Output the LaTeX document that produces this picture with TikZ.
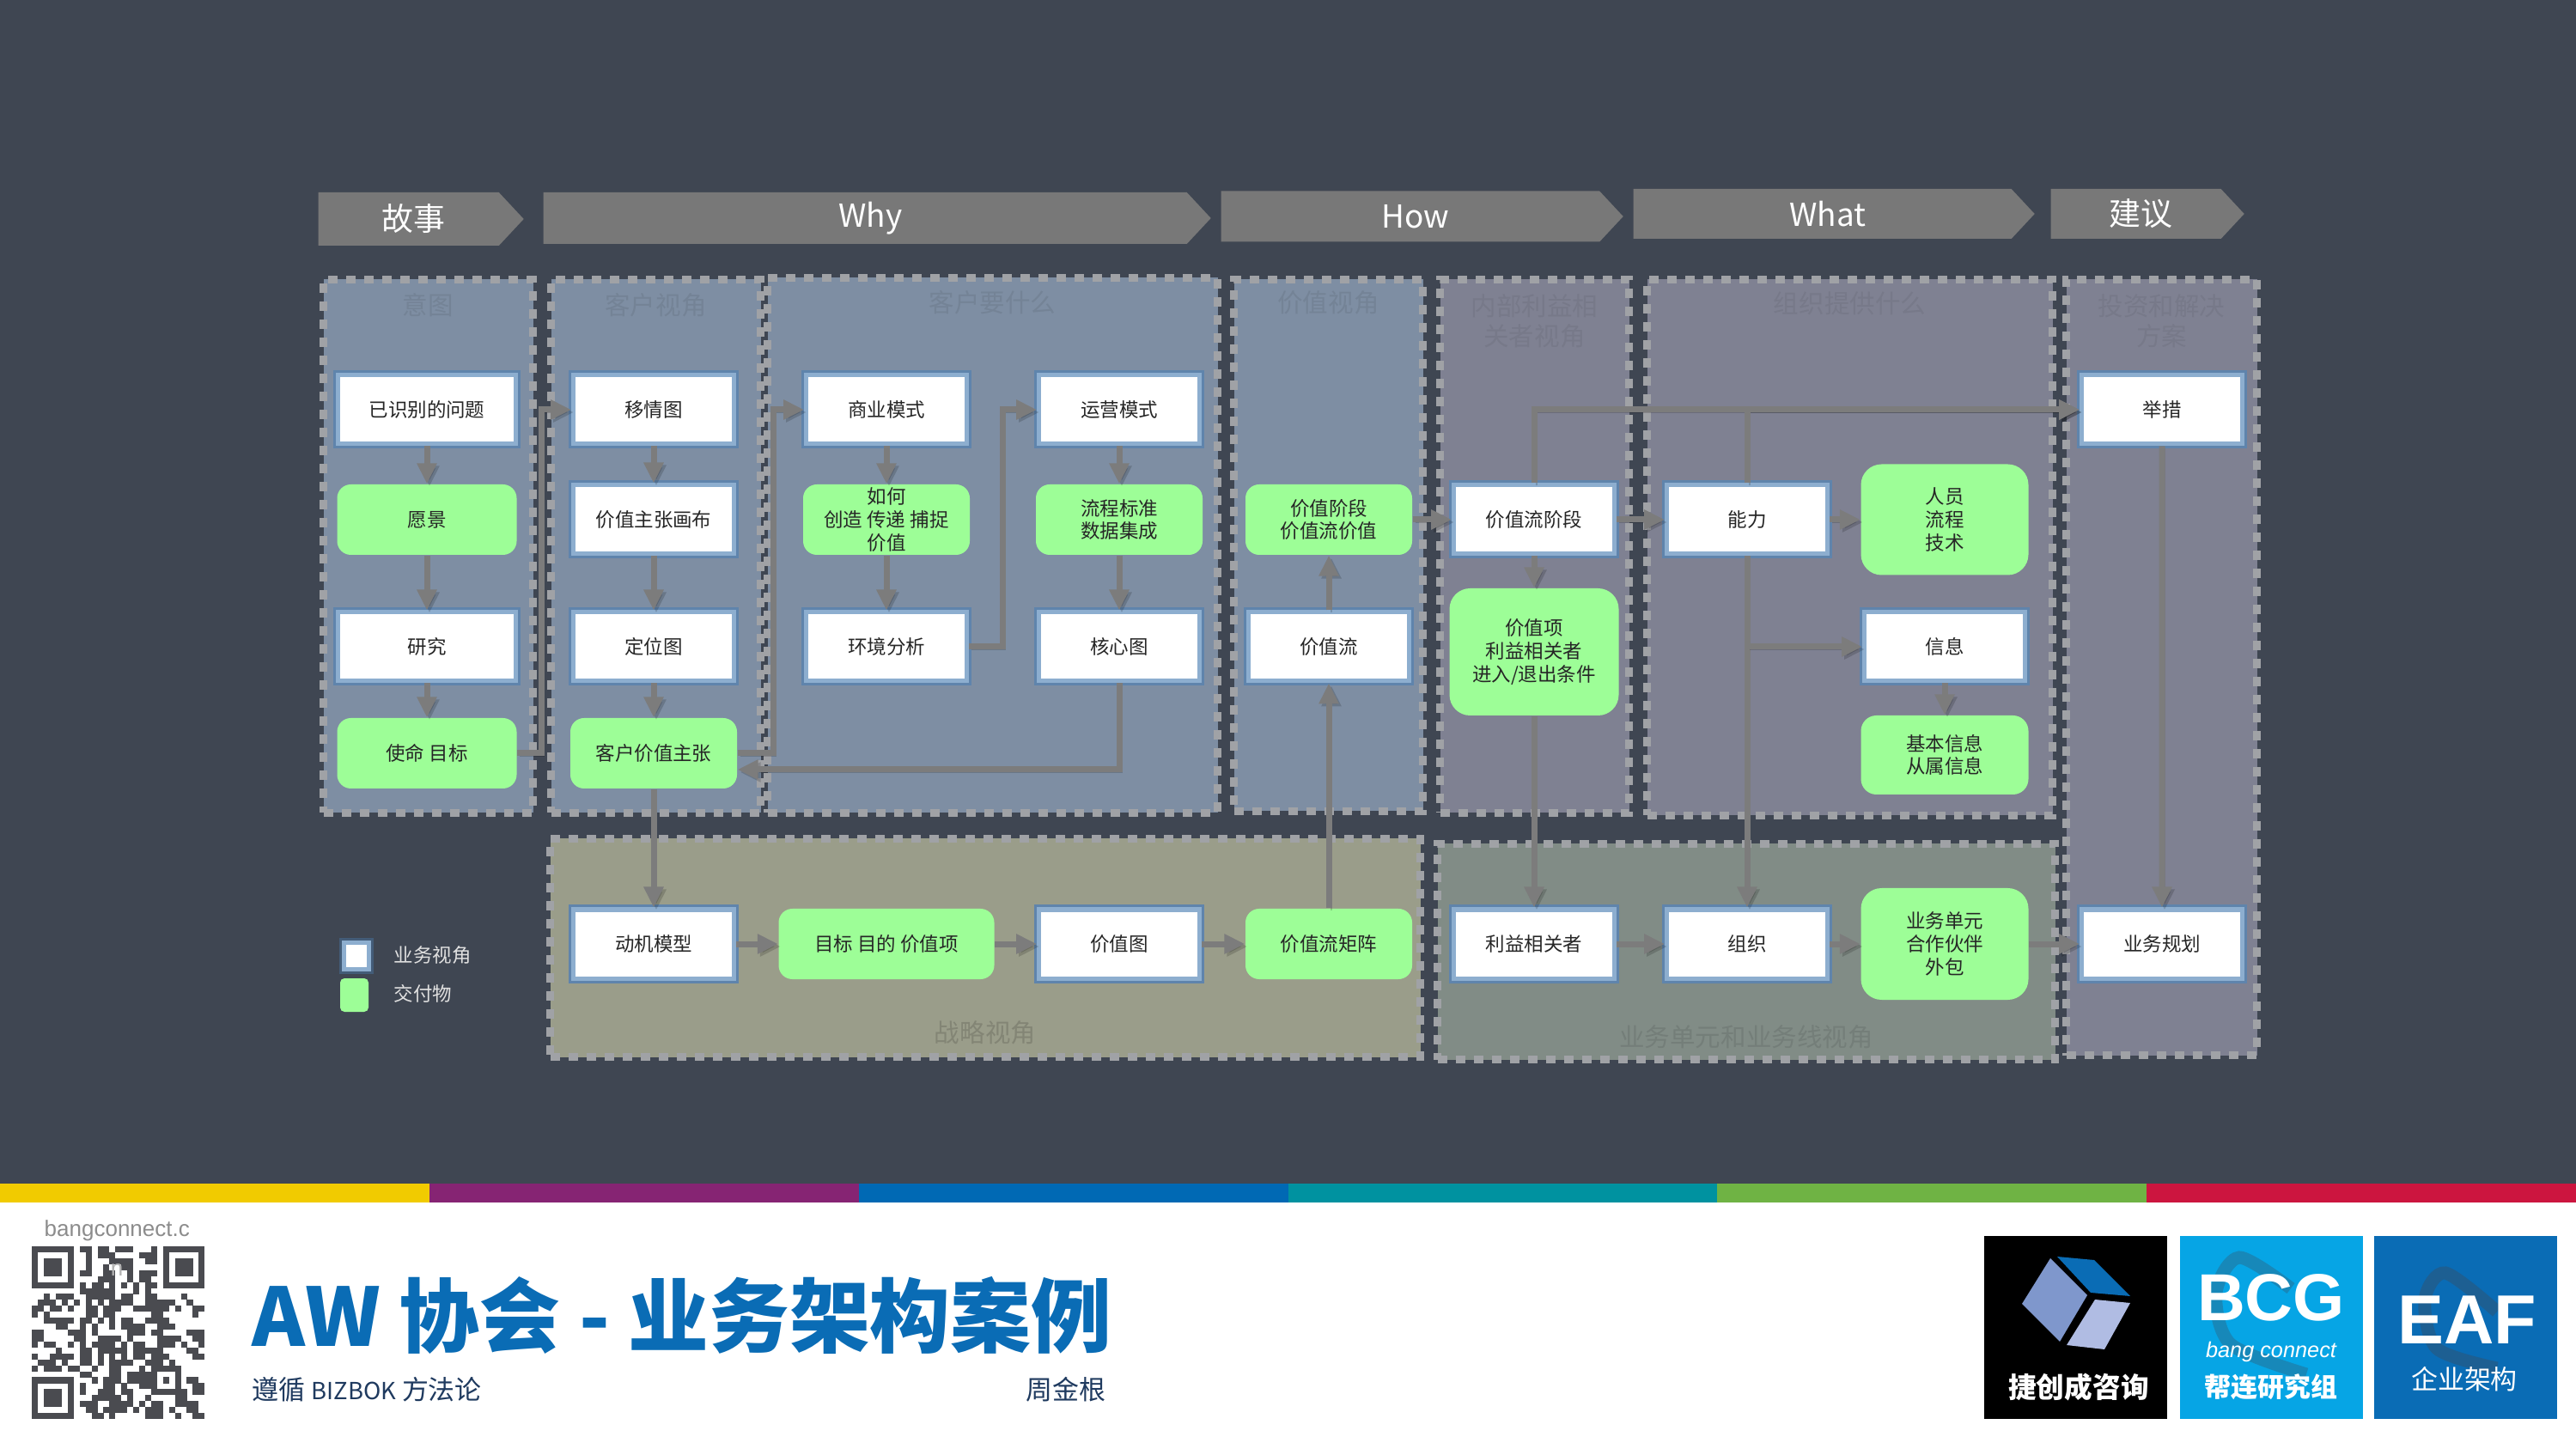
\documentclass[tikz,border=0pt]{standalone}
\usepackage{fontspec}
\usepackage{xcolor}
\setmainfont{Noto Sans CJK SC}
\newfontfamily\logofont{Liberation Sans}
\usetikzlibrary{positioning,arrows.meta,shapes.symbols}

\definecolor{slate}{HTML}{3F4652}
\definecolor{panelblue}{HTML}{7E8EA3}
\definecolor{panelgrey}{HTML}{7F8192}
\definecolor{panelolive}{HTML}{9A9D8A}
\definecolor{panelsage}{HTML}{818C86}
\definecolor{dashgrey}{HTML}{A0A2A6}
\definecolor{arrowgrey}{HTML}{7C7C7C}
\definecolor{boxedge}{HTML}{5F84AC}
\definecolor{boxband}{HTML}{8DAECF}
\definecolor{mint}{HTML}{9DFE97}
\definecolor{brandblue}{HTML}{0A6CB5}
\definecolor{skyblue}{HTML}{06A5E5}
\definecolor{navyink}{HTML}{1F3A5F}
\definecolor{qrink}{HTML}{4A4B50}
\definecolor{cubeleft}{HTML}{7F97CC}
\definecolor{cuberight}{HTML}{B0BCE3}
\definecolor{barone}{HTML}{F1CB00}
\definecolor{bartwo}{HTML}{862473}
\definecolor{barthree}{HTML}{0069B4}
\definecolor{barfour}{HTML}{0092A0}
\definecolor{barfive}{HTML}{6FB344}
\definecolor{barsix}{HTML}{CC153F}

\newcount\qrcount
\def\qrscan#1{\ifx#1\relax\else
  \if#11\fill[qrink] (0.373+0.0693*\the\qrcount,-14.51-0.0693*\qrrow) rectangle +(0.0703,-0.0703);\fi
  \advance\qrcount by 1
  \expandafter\qrscan\fi}

\begin{document}
\begin{tikzpicture}[
  on grid,
  >={Triangle[length=0.24cm,width=0.22cm]},
  font=\fontsize{6.4pt}{7.6pt}\selectfont,
  view/.style={
    draw=boxband, line width=0.05cm, fill=white,
    preaction={draw=boxedge, line width=0.11cm},
    minimum width=1.87cm, minimum height=0.80cm,
    inner sep=0pt, align=center, text=black!85
  },
  deliver/.style={
    fill=mint, rounded corners=0.16cm,
    minimum width=1.94cm, minimum height=0.82cm,
    inner sep=0pt, align=center, text=black!85
  },
  panel/.style={
    draw=dashgrey, line width=0.09cm, dash pattern=on 0.11cm off 0.10cm,
    anchor=north west, inner sep=0pt
  },
  paneltitle/.style={
    font=\fontsize{8.4pt}{10pt}\selectfont, align=center, inner sep=0pt
  },
  chevron/.style={
    shape=signal, signal to=east, signal pointer angle=94,
    fill=arrowgrey!103, text=white, inner sep=0pt, anchor=west,
    font=\fontsize{10.5pt}{12pt}\selectfont,
    execute at begin node={\hspace*{0.12cm}}
  },
  link/.style={
    ->, draw=arrowgrey, line width=0.07cm,
    preaction={draw=black, opacity=0.16, transform canvas={shift={(0.03cm,-0.03cm)}}}
  },
  legendtext/.style={anchor=west, inner sep=0pt, text=black!12},
  logotext/.style={inner sep=0pt, text=white}
]

\fill[slate] (0,0) rectangle (29.99,-13.78);
\fill[white] (0,-14) rectangle (29.99,-16.87);
\foreach \barcolor [count=\barno from 0] in {barone,bartwo,barthree,barfour,barfive,barsix}
  \fill[\barcolor] (\barno*4.9983,-13.78) rectangle ({(\barno+1)*4.9983},-14);

\node[chevron, minimum width=2.39cm, minimum height=0.62cm] (story) at (3.70,-2.55) {故事};
\node[chevron, minimum width=7.77cm, minimum height=0.60cm] (why) at (6.32,-2.54) {Why};
\node[chevron, minimum width=4.68cm, minimum height=0.59cm] (how) at (14.21,-2.52) {How};
\node[chevron, minimum width=4.67cm, minimum height=0.58cm] (what) at (19.01,-2.49) {What};
\node[chevron, minimum width=2.25cm, minimum height=0.58cm] (advice) at (23.87,-2.49) {建议};

\node[panel, fill=panelblue, minimum width=2.44cm, minimum height=6.21cm] (intent) at (3.72,-3.21) {};
\node[panel, fill=panelblue, minimum width=2.44cm, minimum height=6.21cm] (custview) at (6.37,-3.21) {};
\node[panel, fill=panelblue, minimum width=5.24cm, minimum height=6.23cm] (custwant) at (8.89,-3.19) {};
\node[panel, fill=panelblue, minimum width=2.20cm, minimum height=6.19cm] (valueview) at (14.32,-3.21) {};
\node[panel, fill=panelgrey, minimum width=2.20cm, minimum height=6.21cm] (stakeview) at (16.72,-3.21) {};
\node[panel, fill=panelgrey, minimum width=4.72cm, minimum height=6.24cm] (orgview) at (19.13,-3.21) {};
\node[panel, fill=panelgrey, minimum width=2.22cm, minimum height=9.03cm] (invest) at (24.01,-3.21) {};
\node[panel, fill=panelolive, minimum width=10.13cm, minimum height=2.54cm] (strategy) at (6.36,-9.72) {};
\node[panel, fill=panelsage, minimum width=7.19cm, minimum height=2.51cm] (unitview) at (16.69,-9.78) {};

\node[paneltitle, text=panelblue!92!black, below=0.20cm of intent.north] (intenttitle) {意图};
\node[paneltitle, text=panelblue!92!black, below=0.20cm of custview.north] (custviewtitle) {客户视角};
\node[paneltitle, text=panelblue!92!black, below=0.19cm of custwant.north] (custwanttitle) {客户要什么};
\node[paneltitle, text=panelblue!92!black, below=0.17cm of valueview.north] (valueviewtitle) {价值视角};
\node[paneltitle, text=panelgrey!94!black, below=0.21cm of stakeview.north] (stakeviewtitle) {内部利益相\\关者视角};
\node[paneltitle, text=panelgrey!94!black, below=0.18cm of orgview.north] (orgviewtitle) {组织提供什么};
\node[paneltitle, text=panelgrey!94!black, below=0.21cm of invest.north] (investtitle) {投资和解决\\方案};
\node[paneltitle, text=panelolive!85!black, above=0.18cm of strategy.south] (strategytitle) {战略视角};
\node[paneltitle, text=panelsage!90!black, above=0.16cm of unitview.south] (unitviewtitle) {业务单元和业务线视角};

\node[view, minimum width=2.07cm] (issue) at (4.97,-4.77) {已识别的问题};
\node[deliver, minimum width=2.09cm, below=1.28cm of issue] (vision) {愿景};
\node[view, minimum width=2.07cm, below=1.48cm of vision] (research) {研究};
\node[deliver, minimum width=2.09cm, below=1.24cm of research] (mission) {使命 目标};

\node[view, right=2.64cm of issue] (empathy) {移情图};
\node[view, below=1.28cm of empathy] (canvas) {价值主张画布};
\node[view, below=1.48cm of canvas] (position) {定位图};
\node[deliver, below=1.24cm of position] (proposition) {客户价值主张};

\node[view, right=2.71cm of empathy] (business) {商业模式};
\node[deliver, below=1.28cm of business] (create) {如何\\创造 传递 捕捉\\价值};
\node[view, below=1.48cm of create] (environment) {环境分析};

\node[view, right=2.71cm of business] (operation) {运营模式};
\node[deliver, below=1.28cm of operation] (process) {流程标准\\数据集成};
\node[view, below=1.48cm of process] (core) {核心图};

\node[deliver, right=2.44cm of process] (stage) {价值阶段\\价值流价值};
\node[view, below=1.48cm of stage] (stream) {价值流};

\node[view, right=2.39cm of stage] (streamstage) {价值流阶段};
\node[deliver, rounded corners=0.24cm, minimum width=1.97cm, minimum height=1.48cm, below=1.54cm of streamstage] (item) {价值项\\利益相关者\\进入/退出条件};

\node[view, right=2.48cm of streamstage] (capability) {能力};
\node[deliver, rounded corners=0.24cm, minimum width=1.95cm, minimum height=1.29cm, right=2.30cm of capability] (people) {人员\\流程\\技术};
\node[view, below=1.48cm of people] (info) {信息};
\node[deliver, rounded corners=0.18cm, minimum width=1.95cm, minimum height=0.92cm, below=1.26cm of info] (basicinfo) {基本信息\\从属信息};

\node[view] (initiative) at (25.17,-4.77) {举措};

\node[view, below=2.22cm of proposition] (motivation) {动机模型};
\node[deliver, minimum width=2.51cm, right=2.71cm of motivation] (goal) {目标 目的 价值项};
\node[view, right=2.71cm of goal] (valuemap) {价值图};
\node[deliver, right=2.44cm of valuemap] (matrix) {价值流矩阵};
\node[view, right=2.39cm of matrix] (stakeholder) {利益相关者};
\node[view, right=2.48cm of stakeholder] (org) {组织};
\node[deliver, rounded corners=0.24cm, minimum width=1.95cm, minimum height=1.30cm, right=2.30cm of org] (unit) {业务单元\\合作伙伴\\外包};
\node[view, right=2.53cm of unit] (plan) {业务规划};

\coordinate (elbowa) at (6.30,0);
\coordinate (elbowb) at (9.00,0);
\coordinate (elbowc) at (11.67,0);

\draw[link] (issue.south) -- (vision.north);
\draw[link] (vision.south) -- (research.north);
\draw[link] (research.south) -- (mission.north);
\draw[link] (mission.east) -- (mission.east -| elbowa) |- (empathy.west);
\draw[link] (empathy.south) -- (canvas.north);
\draw[link] (canvas.south) -- (position.north);
\draw[link] (position.south) -- (proposition.north);
\draw[link] (proposition.east) -- (proposition.east -| elbowb) |- (business.west);
\draw[link] (business.south) -- (create.north);
\draw[link] (create.south) -- (environment.north);
\draw[link] (environment.east) -- (environment.east -| elbowc) |- (operation.west);
\draw[link] (operation.south) -- (process.north);
\draw[link] (process.south) -- (core.north);
\draw[link] (core.south) |- ([yshift=-0.19cm]proposition.east);
\draw[link] (proposition.south) -- (motivation.north);
\draw[link] (motivation.east) -- (goal.west);
\draw[link] (goal.east) -- (valuemap.west);
\draw[link] (valuemap.east) -- (matrix.west);
\draw[link] (matrix.north) -- (stream.south);
\draw[link] (stream.north) -- (stage.south);
\draw[link] (stage.east) -- (streamstage.west);
\draw[link] (streamstage.east) -- (capability.west);
\draw[link] (streamstage.south) -- (item.north);
\draw[link] (item.south) -- (stakeholder.north);
\draw[link] (stakeholder.east) -- (org.west);
\draw[link] (org.east) -- (unit.west);
\draw[link] (unit.east) -- (plan.west);
\draw[link] (capability.east) -- (people.west);
\draw[link] (capability.south) -- (org.north);
\draw[link] (capability.south |- info.west) -- (info.west);
\draw[link] (info.south) -- (basicinfo.north);
\draw[link] (streamstage.north) |- (initiative.west);
\draw[link] (capability.north) |- (initiative.west);
\draw[link] (initiative.south) -- (plan.north);

\node[view, preaction={draw=boxedge!70!black, line width=0.11cm}, minimum width=0.29cm, minimum height=0.31cm] (legendview) at (4.15,-11.13) {};
\node[deliver, rounded corners=0.05cm, minimum width=0.33cm, minimum height=0.39cm] (legenddeliver) at (4.125,-11.585) {};
\node[legendtext] (legendviewtext) at (4.58,-11.12) {业务视角};
\node[legendtext] (legenddelivertext) at (4.58,-11.57) {交付物};

\node[anchor=west, inner sep=0pt, text=black!45, font=\logofont\fontsize{7.4pt}{9pt}\selectfont] (siteurl) at (0.51,-14.33) {bangconnect.c};
\foreach \qrline [count=\qrrow from 0] in {
  11111110110110111000101111111,
  10000010010111000011101000001,
  10111010010001111001101011101,
  10111010010010011000001011101,
  10111010110011001011101011101,
  10000010000111001011001000001,
  11111110101101010101101111111,
  00000000111111000101000000000,
  00101110011111011001100001000,
  01110101010101111001111100100,
  11011010011011100111111010011,
  10100000011011000000110000010,
  00111110110101011001111000000,
  00001100101001011110011100000,
  11000011101000001110110000111,
  11000001100111101000011110011,
  10110010101111010110011101001,
  00001000110111110111110000110,
  10011110110101010110111000011,
  01110100110101111001110100000,
  10111011001001100010111110000,
  00000000110001101111100010000,
  11111110001011101111101010110,
  10000010100011010011100010011,
  10111010100111011000111111011,
  10111010001111101001000011000,
  10111010111001111010110011110,
  10000010011011110101110100110,
  11111110001101000001110010011}{
  \qrcount=0
  \expandafter\qrscan\qrline\relax
}
\node[inner sep=0pt, text=black!30, font=\logofont\fontsize{7.4pt}{9pt}\selectfont] (siteurlend) at (1.36,-14.78) {n};

\node[anchor=west, inner sep=0pt, text=brandblue, font=\fontsize{26.7pt}{30pt}\selectfont\bfseries] (title) at (2.93,-15.31) {AW 协会 - 业务架构案例};
\node[anchor=west, inner sep=0pt, text=navyink, font=\fontsize{8.8pt}{10pt}\selectfont] (subtitle) at (2.93,-16.18) {遵循 {\fontsize{7.8pt}{10pt}\selectfont BIZBOK} 方法论};
\node[anchor=east, inner sep=0pt, text=navyink, font=\fontsize{8.8pt}{10pt}\selectfont] (presenter) at (12.88,-16.18) {周金根};

\fill[black] (23.10,-14.39) rectangle (25.23,-16.52);
\fill[cubeleft] (23.87,-14.65) -- (24.30,-15.08) -- (23.98,-15.62) -- (23.54,-15.18) -- cycle;
\fill[brandblue] (23.95,-14.63) -- (24.38,-14.67) -- (24.80,-15.09) -- (24.34,-15.05) -- cycle;
\fill[cuberight] (24.39,-15.13) -- (24.80,-15.17) -- (24.50,-15.71) -- (24.06,-15.66) -- cycle;
\node[logotext, font=\fontsize{9.3pt}{11pt}\selectfont\bfseries] (jiechuang) at (24.20,-16.15) {捷创成咨询};

\fill[skyblue] (25.38,-14.39) rectangle (27.51,-16.52);
\draw[line width=0.15cm, draw=skyblue!70!slate] plot[smooth] coordinates {(26.67,-15.00) (26.07,-14.64) (25.80,-15.05) (25.97,-15.65) (26.85,-16.00)};
\node[logotext, font=\logofont\fontsize{22pt}{24pt}\selectfont\bfseries] (bcg) at (26.44,-15.11) {BCG};
\node[logotext, font=\logofont\fontsize{7.2pt}{9pt}\selectfont\itshape] (bangconnect) at (26.44,-15.74) {bang connect};
\node[logotext, font=\fontsize{8.8pt}{11pt}\selectfont\bfseries] (bangtitle) at (26.44,-16.15) {帮连研究组};

\fill[brandblue] (27.64,-14.39) rectangle (29.77,-16.52);
\draw[line width=0.15cm, draw=brandblue!65!slate] plot[smooth] coordinates {(29.07,-15.27) (28.47,-14.82) (28.23,-15.13) (28.37,-15.70) (29.07,-15.93)};
\node[logotext, font=\logofont\fontsize{23pt}{25pt}\selectfont\bfseries] (eaf) at (28.72,-15.37) {EAF};
\node[logotext, font=\fontsize{8.8pt}{11pt}\selectfont] (eaftitle) at (28.69,-16.06) {企业架构};

\end{tikzpicture}
\end{document}
